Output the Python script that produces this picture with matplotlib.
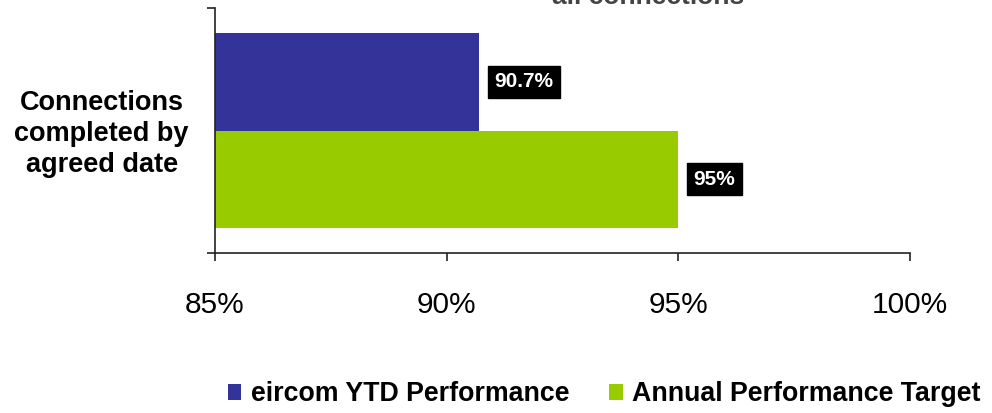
#!/usr/bin/env python3

import matplotlib.pyplot as plt
from matplotlib.patches import Patch

# ============================================================
# DATA
# ============================================================
category = "Connections\ncompleted by\nagreed date"
series_names = ["eircom YTD Performance", "Annual Performance Target"]
series_values = [90.7, 95.0]
value_labels = ["90.7%", "95%"]
series_colors = ["#333399", "#99cc00"]
x_ticks = [85, 90, 95, 100]
x_tick_labels = ["85%", "90%", "95%", "100%"]
title_text = "all connections"

plt.rcParams["font.family"] = ["Liberation Sans", "DejaVu Sans"]

fig = plt.figure(figsize=(9.92, 4.13), dpi=100)
ax = fig.add_axes([0.2167, 0.3874, 0.7006, 0.5932])

bar_h = 0.4
y_pos = [0.2, -0.2]
for name, val, lab, col, y in zip(series_names, series_values, value_labels,
                                  series_colors, y_pos):
    ax.barh(y, val - x_ticks[0], left=x_ticks[0], height=bar_h, color=col,
            label=name)
    ax.annotate(lab, xy=(val, y), xytext=(11, 0), textcoords="offset points",
                ha="left", va="center", color="white", fontsize=15,
                fontweight="bold",
                bbox=dict(boxstyle="square,pad=0.32", fc="black", ec="black"))

ax.set_xlim(x_ticks[0], x_ticks[-1])
ax.set_ylim(-0.505, 0.505)
ax.set_xticks(x_ticks)
ax.set_xticklabels(x_tick_labels, fontsize=21.5)
ax.set_yticks([-0.505, 0.505])
ax.set_yticklabels([])

for s in ["top", "right"]:
    ax.spines[s].set_visible(False)
for s in ["left", "bottom"]:
    ax.spines[s].set_color("#222222")
    ax.spines[s].set_linewidth(1.2)
ax.tick_params(axis="x", direction="out", length=6, width=1.2,
               color="#222222", pad=21)
ax.tick_params(axis="y", direction="out", length=6, width=1.2,
               color="#222222")

ax.text(-0.163, 0.484, category, transform=ax.transAxes, ha="center",
        va="center", fontsize=19.5, fontweight="bold", linespacing=1.25)

fig.text(0.653, 0.990, title_text, ha="center", va="baseline", fontsize=19,
         fontweight="bold", color="#444444")

handles = [Patch(facecolor=c, edgecolor="none") for c in series_colors]
fig.legend(handles, series_names, loc="center", bbox_to_anchor=(0.609, 0.045),
           ncol=2, frameon=False, prop=dict(size=19.3, weight="bold"),
           handlelength=0.5, handleheight=0.5, handletextpad=0.35,
           columnspacing=1.5, borderpad=0, borderaxespad=0)

fig.savefig("out.png", dpi=100)
